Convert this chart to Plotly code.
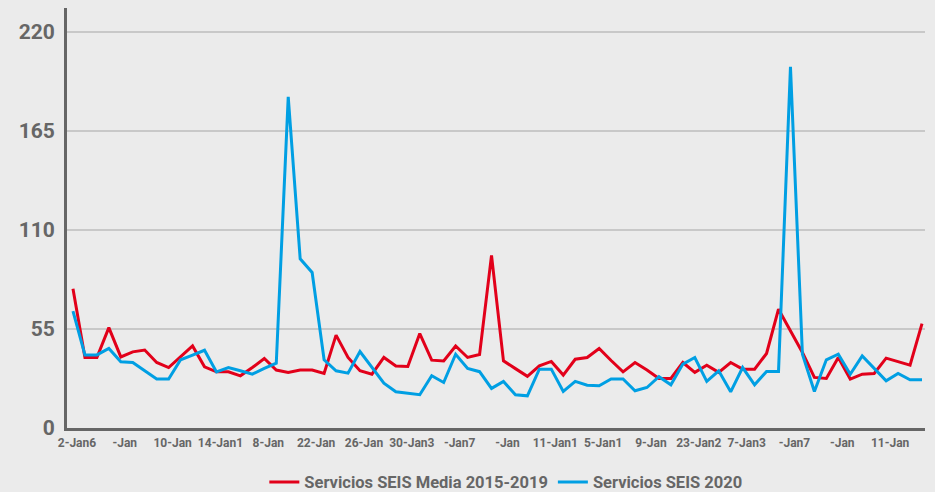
import plotly.graph_objects as go

# days (index of each point), tick labels every 4 points
dias = list(range(72))
tick_pos = dias[::4]
tick_txt = ["2-Jan6", "-Jan", "10-Jan", "14-Jan1", "8-Jan", "22-Jan", "26-Jan", "30-Jan3",
            "-Jan7", "-Jan", "11-Jan1", "5-Jan1", "9-Jan", "23-Jan2", "7-Jan3", "-Jan7",
            "-Jan", "11-Jan"]

media_15_19 = [77.4, 39.2, 39.2, 55.8, 39.5, 42.3, 43.3, 36.4, 33.6, 39.7,
               45.6, 34.0, 31.2, 31.2, 29.0, 33.6, 38.6, 32.2, 30.9, 32.2,
               32.2, 30.3, 51.6, 39.2, 31.8, 29.9, 39.2, 34.5, 34.2, 52.5,
               37.7, 37.3, 45.6, 39.2, 40.8, 95.9, 37.3, 33.0, 28.7, 34.5,
               37.0, 29.4, 38.2, 39.2, 44.2, 37.5, 31.2, 36.4, 32.2, 27.5,
               27.5, 36.4, 30.9, 34.9, 30.9, 36.4, 32.7, 32.7, 41.4, 66.0,
               54.0, 42.0, 28.1, 27.5, 39.2, 27.2, 29.9, 30.3, 38.8, 36.8,
               34.9, 58.0]

seis_2020 = [65.0, 40.6, 40.6, 44.2, 36.8, 36.4, 31.8, 27.2, 27.2, 37.9,
             40.5, 43.2, 31.2, 33.6, 31.8, 29.9, 33.1, 36.0, 184.0, 94.0,
             86.4, 37.9, 31.8, 30.5, 42.5, 33.6, 24.9, 20.1, 19.4, 18.5,
             29.0, 25.3, 41.0, 33.1, 31.3, 22.0, 25.9, 18.5, 17.9, 32.7,
             32.7, 20.3, 25.9, 23.8, 23.5, 27.2, 27.2, 20.7, 22.5, 28.5,
             24.0, 35.5, 39.2, 25.9, 31.8, 20.1, 33.6, 24.0, 31.4, 31.4,
             200.7, 41.0, 20.3, 37.9, 41.0, 29.9, 40.1, 33.1, 26.2, 30.3,
             26.8, 26.8]

y_ticks = [0, 55, 110, 165, 220]

gris = "#666666"
fondo = "#ebebeb"

fig = go.Figure()
fig.add_trace(go.Scatter(x=dias, y=media_15_19, mode="lines", name="Servicios SEIS Media 2015-2019",
                         line=dict(color="#e2001a", width=3)))
fig.add_trace(go.Scatter(x=dias, y=seis_2020, mode="lines", name="Servicios SEIS 2020",
                         line=dict(color="#009fe3", width=3)))

fig.update_layout(
    width=935, height=492,
    margin=dict(l=67, r=10, t=8, b=64),
    paper_bgcolor=fondo, plot_bgcolor=fondo,
    font=dict(family="Roboto", color=gris, weight="bold"),
    xaxis=dict(range=[-0.5, 71.25], tickvals=tick_pos, ticktext=tick_txt,
               tickfont=dict(size=12, color=gris, weight="bold"), ticklabelshift=4,
               showgrid=False, zeroline=False, showline=True, linecolor=gris, linewidth=3,
               ticks="", ticklabelstandoff=2, automargin=False),
    yaxis=dict(range=[0, 233.4], tickvals=y_ticks,
               tickfont=dict(size=21, color=gris, weight="bold"),
               showgrid=True, gridcolor="#c8c8c8", gridwidth=2, zeroline=False,
               showline=True, linecolor=gris, linewidth=3, ticks="", ticklabelstandoff=5,
               automargin=False),
    legend=dict(orientation="h", xref="container", x=0.541, xanchor="center",
                yref="container", y=0.02, yanchor="middle",
                font=dict(size=16.5, color=gris, weight="bold"), bgcolor="rgba(0,0,0,0)",
                itemwidth=30),
)

# page body has a default 8px margin; drop it so the figure sits at the window corner
fig.write_html("out.html", config={"displayModeBar": False},
               post_script="document.body.style.margin='0px';")
